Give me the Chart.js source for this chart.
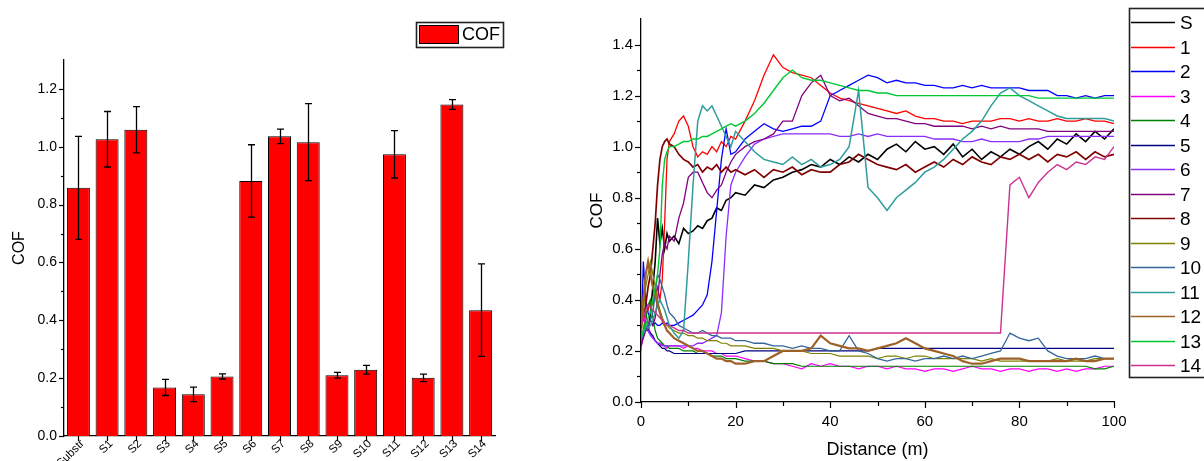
<!DOCTYPE html>
<html><head><meta charset="utf-8">
<script src="https://cdn.jsdelivr.net/npm/chart.js@4.4.1/dist/chart.umd.min.js"></script>
<style>
html,body{margin:0;padding:0;background:#fff;width:1204px;height:461px;overflow:hidden}
#c1{position:absolute;left:0;top:0;width:560px;height:461px}
#c2{position:absolute;left:560px;top:0;width:644px;height:461px}
</style></head><body>
<canvas id="c1" width="560" height="461"></canvas>
<canvas id="c2" width="644" height="461"></canvas>
<script>
// ---------- bar chart data ----------
const barCategories = ['Substr','S1','S2','S3','S4','S5','S6','S7','S8','S9','S10','S11','S12','S13','S14'];
const cofMean = [0.858,1.026,1.059,0.168,0.144,0.206,0.882,1.036,1.016,0.210,0.229,0.974,0.201,1.146,0.435];
const cofErr  = [0.178,0.096,0.080,0.028,0.025,0.009,0.125,0.025,0.133,0.010,0.015,0.082,0.013,0.017,0.160];
const barYTicks = [0,0.2,0.4,0.6,0.8,1.0,1.2];
const barYMinor = [0.1,0.3,0.5,0.7,0.9,1.1];

// ---------- line chart data ----------
const distance = [0,0.5,1,1.5,2,2.5,3,3.5,4,4.5,5,5.5,6,7,8,9,10,11,12,13,14,15,16,17,18,19,20,22,24,26,28,30,32,34,36,38,40,42,44,46,48,50,52,54,56,58,60,62,64,66,68,70,72,74,76,78,80,82,84,86,88,90,92,94,96,98,100];
const seriesLabels = ['S','1','2','3','4','5','6','7','8','9','10','11','12','13','14'];
const seriesColors = ['#000000','#ff0000','#0000ff','#ff00ff','#008000','#000080','#8c2cff','#800080','#800000','#808000','#336699','#2e9c9c','#9c6228','#00c832','#cc3390'];
const lineXTicks = [0,20,40,60,80,100];
const lineXMinor = [10,30,50,70,90];
const lineYTicks = [0,0.2,0.4,0.6,0.8,1.0,1.2,1.4];
const lineYMinor = [0.1,0.3,0.5,0.7,0.9,1.1,1.3];

const cofS = [0.25,0.27,0.30,0.28,0.35,0.45,0.55,0.72,0.62,0.68,0.60,0.66,0.63,
 0.65,0.62,0.68,0.66,0.67,0.69,0.68,0.71,0.72,0.76,0.75,0.79,0.80,0.82,
 0.81,0.85,0.84,0.87,0.88,0.90,0.91,0.93,0.92,0.95,0.93,0.96,0.94,0.97,0.95,0.99,1.01,0.98,1.02,0.99,1.00,0.97,1.01,0.96,0.99,0.95,0.98,0.96,0.99,0.97,1.00,1.02,0.99,1.03,1.01,1.05,1.02,1.06,1.03,1.07];
const cof1 = [0.30,0.32,0.35,0.36,0.40,0.38,0.42,0.45,0.40,0.48,0.70,0.95,1.02,
 1.05,1.10,1.12,1.08,1.00,0.96,0.98,0.97,1.00,0.98,1.02,1.00,1.04,1.03,
 1.10,1.18,1.28,1.36,1.31,1.29,1.28,1.27,1.24,1.21,1.19,1.18,1.17,1.16,1.15,1.14,1.13,1.14,1.12,1.11,1.11,1.10,1.10,1.09,1.10,1.10,1.10,1.11,1.11,1.10,1.11,1.10,1.10,1.11,1.10,1.10,1.11,1.10,1.10,1.09];
const cof2 = [0.25,0.55,0.40,0.35,0.32,0.30,0.31,0.30,0.30,0.31,0.30,0.31,0.30,
 0.30,0.31,0.32,0.33,0.34,0.36,0.38,0.42,0.55,0.75,0.95,1.07,0.97,0.98,
 1.03,1.06,1.09,1.07,1.06,1.07,1.08,1.08,1.10,1.20,1.22,1.24,1.26,1.28,1.27,1.25,1.26,1.25,1.25,1.24,1.24,1.23,1.23,1.24,1.23,1.24,1.23,1.23,1.23,1.23,1.22,1.22,1.22,1.20,1.20,1.19,1.20,1.19,1.20,1.20];
const cof3 = [0.20,0.28,0.35,0.30,0.27,0.25,0.24,0.23,0.22,0.23,0.22,0.21,0.22,
 0.22,0.22,0.21,0.22,0.21,0.21,0.20,0.20,0.20,0.19,0.19,0.18,0.18,0.18,
 0.17,0.16,0.16,0.15,0.15,0.14,0.13,0.15,0.14,0.15,0.14,0.14,0.13,0.14,0.14,0.13,0.14,0.13,0.13,0.12,0.13,0.13,0.12,0.13,0.14,0.13,0.13,0.12,0.13,0.13,0.12,0.13,0.13,0.12,0.13,0.12,0.13,0.13,0.14,0.14];
const cof4 = [0.22,0.28,0.32,0.38,0.40,0.33,0.28,0.25,0.24,0.23,0.22,0.22,0.21,
 0.21,0.21,0.20,0.20,0.20,0.19,0.19,0.19,0.18,0.18,0.18,0.17,0.17,0.17,
 0.16,0.16,0.16,0.15,0.15,0.15,0.14,0.14,0.14,0.14,0.14,0.14,0.14,0.14,0.14,0.14,0.14,0.14,0.14,0.14,0.14,0.14,0.14,0.14,0.14,0.14,0.14,0.14,0.14,0.14,0.14,0.14,0.14,0.14,0.14,0.14,0.14,0.13,0.13,0.14];
const cof5 = [0.25,0.27,0.28,0.28,0.27,0.26,0.24,0.23,0.22,0.21,0.21,0.20,0.20,
 0.19,0.19,0.19,0.19,0.19,0.19,0.19,0.19,0.19,0.19,0.19,0.19,0.19,0.19,
 0.20,0.20,0.20,0.20,0.20,0.20,0.20,0.20,0.20,0.20,0.20,0.20,0.20,0.20,0.21,0.21,0.21,0.21,0.21,0.21,0.21,0.21,0.21,0.21,0.21,0.21,0.21,0.21,0.21,0.21,0.21,0.21,0.21,0.21,0.21,0.21,0.21,0.21,0.21,0.21];
const cof6 = [0.22,0.26,0.30,0.28,0.26,0.25,0.24,0.23,0.23,0.22,0.22,0.22,0.22,
 0.22,0.22,0.22,0.22,0.22,0.23,0.23,0.24,0.25,0.26,0.35,0.65,0.85,0.90,
 0.96,1.01,1.03,1.04,1.05,1.05,1.05,1.05,1.05,1.05,1.04,1.04,1.05,1.04,1.05,1.04,1.04,1.04,1.04,1.04,1.03,1.03,1.03,1.02,1.02,1.03,1.02,1.02,1.02,1.02,1.03,1.03,1.04,1.04,1.04,1.04,1.04,1.04,1.04,1.04];
const cof7 = [0.22,0.25,0.28,0.30,0.32,0.30,0.33,0.40,0.50,0.58,0.62,0.60,0.65,
 0.63,0.72,0.78,0.88,0.90,0.90,0.86,0.82,0.80,0.83,0.85,0.90,0.94,0.97,
 1.00,1.02,1.03,1.05,1.10,1.10,1.20,1.25,1.28,1.20,1.18,1.19,1.16,1.13,1.12,1.11,1.11,1.10,1.09,1.09,1.08,1.08,1.08,1.08,1.07,1.08,1.07,1.08,1.07,1.07,1.07,1.07,1.06,1.06,1.06,1.06,1.06,1.06,1.06,1.06];
const cof8 = [0.30,0.33,0.38,0.45,0.50,0.60,0.70,0.85,0.95,1.00,1.02,1.03,1.01,
 1.00,0.97,0.95,0.94,0.92,0.93,0.90,0.92,0.91,0.93,0.90,0.92,0.90,0.91,
 0.89,0.91,0.88,0.91,0.90,0.92,0.89,0.91,0.90,0.90,0.93,0.94,0.97,0.95,0.93,0.92,0.91,0.93,0.90,0.92,0.94,0.92,0.95,0.93,0.96,0.94,0.93,0.96,0.95,0.97,0.95,0.97,0.94,0.97,0.96,0.98,0.95,0.98,0.96,0.97];
const cof9 = [0.25,0.35,0.45,0.50,0.55,0.50,0.45,0.40,0.36,0.33,0.31,0.30,0.29,
 0.28,0.27,0.27,0.26,0.26,0.25,0.25,0.24,0.24,0.24,0.23,0.23,0.22,0.22,
 0.22,0.21,0.21,0.21,0.20,0.20,0.20,0.19,0.19,0.19,0.18,0.18,0.18,0.18,0.17,0.18,0.18,0.17,0.18,0.18,0.17,0.17,0.17,0.17,0.17,0.16,0.17,0.16,0.16,0.16,0.16,0.16,0.16,0.17,0.16,0.16,0.16,0.17,0.17,0.17];
const cof10 = [0.25,0.27,0.28,0.30,0.32,0.35,0.42,0.50,0.48,0.45,0.42,0.38,0.35,
 0.33,0.30,0.29,0.28,0.27,0.27,0.28,0.27,0.26,0.26,0.25,0.25,0.25,0.24,
 0.24,0.23,0.23,0.22,0.22,0.21,0.22,0.21,0.21,0.20,0.20,0.26,0.20,0.19,0.17,0.16,0.17,0.17,0.16,0.17,0.17,0.18,0.17,0.18,0.17,0.18,0.19,0.20,0.27,0.25,0.24,0.25,0.20,0.18,0.17,0.17,0.17,0.18,0.17,0.17];
const cof11 = [0.25,0.27,0.30,0.29,0.30,0.32,0.35,0.38,0.40,0.38,0.36,0.33,0.30,
 0.27,0.25,0.28,0.55,0.85,1.10,1.16,1.14,1.16,1.12,1.08,1.04,1.00,1.06,
 1.02,0.98,0.95,0.94,0.93,0.96,0.93,0.95,0.92,0.93,0.95,1.00,1.22,0.84,0.80,0.75,0.80,0.83,0.86,0.90,0.92,0.95,0.99,1.03,1.06,1.10,1.16,1.21,1.23,1.20,1.18,1.16,1.14,1.12,1.11,1.11,1.11,1.11,1.11,1.10];
const cof12 = [0.30,0.40,0.50,0.55,0.50,0.45,0.42,0.38,0.35,0.32,0.30,0.28,0.27,
 0.25,0.24,0.23,0.22,0.21,0.20,0.20,0.19,0.18,0.17,0.17,0.16,0.16,0.15,
 0.15,0.16,0.16,0.18,0.20,0.20,0.20,0.21,0.26,0.23,0.22,0.21,0.21,0.20,0.21,0.22,0.23,0.25,0.23,0.21,0.20,0.19,0.18,0.16,0.15,0.15,0.16,0.17,0.17,0.17,0.16,0.16,0.16,0.16,0.16,0.17,0.16,0.16,0.17,0.17];
const cof13 = [0.25,0.28,0.30,0.33,0.35,0.40,0.45,0.50,0.60,0.85,0.95,0.98,1.00,
 1.00,1.01,1.02,1.02,1.03,1.03,1.04,1.04,1.05,1.06,1.07,1.08,1.09,1.08,
 1.10,1.13,1.17,1.22,1.27,1.30,1.27,1.26,1.26,1.25,1.24,1.23,1.22,1.22,1.21,1.21,1.20,1.20,1.20,1.20,1.20,1.20,1.20,1.20,1.20,1.20,1.20,1.20,1.20,1.20,1.20,1.19,1.19,1.19,1.19,1.19,1.19,1.19,1.19,1.19];
const cof14 = [0.30,0.33,0.36,0.38,0.37,0.36,0.35,0.34,0.33,0.32,0.31,0.30,0.30,
 0.29,0.28,0.28,0.27,0.27,0.27,0.27,0.27,0.27,0.27,0.27,0.27,0.27,0.27,
 0.27,0.27,0.27,0.27,0.27,0.27,0.27,0.27,0.27,0.27,0.27,0.27,0.27,0.27,0.27,0.27,0.27,0.27,0.27,0.27,0.27,0.27,0.27,0.27,0.27,0.27,0.27,0.27,0.85,0.88,0.80,0.86,0.90,0.93,0.91,0.94,0.93,0.96,0.95,1.00];
const seriesValues = [cofS,cof1,cof2,cof3,cof4,cof5,cof6,cof7,cof8,cof9,cof10,cof11,cof12,cof13,cof14];
const seriesWidths = [1.6,1.3,1.3,1.2,1.2,1.2,1.3,1.3,1.7,1.2,1.3,1.5,2.2,1.4,1.4];

const FONT = "'Liberation Sans', Arial, sans-serif";

// ---------- plugins ----------
const axisTicks = {
  id: 'axisTicks',
  afterDraw(chart, args, opts) {
    const ctx = chart.ctx;
    ctx.save(); ctx.strokeStyle = '#000'; ctx.lineWidth = 1.2;
    ['x','y'].forEach(k => {
      const sc = chart.scales[k]; const o = opts[k]; if (!o) return;
      const draw = (v, len) => {
        const p = Math.round(sc.getPixelForValue(v)) + 0.5;
        ctx.beginPath();
        if (k === 'x') { ctx.moveTo(p, sc.top); ctx.lineTo(p, sc.top + len); }
        else { ctx.moveTo(sc.right, p); ctx.lineTo(sc.right - len, p); }
        ctx.stroke();
      };
      (o.major || []).forEach(v => draw(v, o.len));
      (o.minor || []).forEach(v => draw(v, o.minorLen));
    });
    ctx.restore();
  }
};

const errorBars = {
  id: 'errorBars',
  afterDatasetsDraw(chart) {
    const ctx = chart.ctx, meta = chart.getDatasetMeta(0), ys = chart.scales.y;
    ctx.save(); ctx.strokeStyle = '#000'; ctx.lineWidth = 1.3;
    meta.data.forEach((bar, i) => {
      const x = Math.round(bar.x) + 0.5;
      const yt = ys.getPixelForValue(cofMean[i] + cofErr[i]);
      const yb = ys.getPixelForValue(cofMean[i] - cofErr[i]);
      ctx.beginPath();
      ctx.moveTo(x, yt); ctx.lineTo(x, yb);
      ctx.moveTo(x - 3.5, yt); ctx.lineTo(x + 3.5, yt);
      ctx.moveTo(x - 3.5, yb); ctx.lineTo(x + 3.5, yb);
      ctx.stroke();
    });
    ctx.restore();
  }
};

const barLegend = {
  id: 'barLegend',
  afterDraw(chart) {
    const ctx = chart.ctx, ds = chart.data.datasets[0];
    ctx.save();
    ctx.fillStyle = '#fff';
    ctx.fillRect(416, 22, 87, 25);
    ctx.strokeStyle = '#222'; ctx.lineWidth = 1.6;
    ctx.strokeRect(416.5, 22.5, 87, 25);
    ctx.fillStyle = ds.backgroundColor;
    ctx.fillRect(419, 25, 40, 19);
    ctx.strokeStyle = '#000'; ctx.lineWidth = 1;
    ctx.strokeRect(419.5, 25.5, 39, 18);
    ctx.fillStyle = '#000'; ctx.font = '18px ' + FONT; ctx.textBaseline = 'middle';
    ctx.fillText(ds.label, 462, 35.5);
    ctx.restore();
  }
};

const lineLegend = {
  id: 'lineLegend',
  afterDraw(chart) {
    const ctx = chart.ctx;
    ctx.save();
    ctx.strokeStyle = '#222'; ctx.lineWidth = 1.6;
    ctx.strokeRect(569.5, 8.5, 100, 369);
    ctx.font = '19px ' + FONT; ctx.textBaseline = 'middle';
    chart.data.datasets.forEach((ds, i) => {
      const y = Math.round(22 + i * 24.5) + 0.5;
      ctx.strokeStyle = ds.borderColor; ctx.lineWidth = 1.3;
      ctx.beginPath(); ctx.moveTo(571, y); ctx.lineTo(615, y); ctx.stroke();
      ctx.fillStyle = '#000';
      ctx.fillText(ds.label, 620, y + 1);
    });
    ctx.restore();
  }
};

// ---------- bar chart ----------
new Chart(document.getElementById('c1'), {
  type: 'bar',
  data: {
    labels: barCategories,
    datasets: [{
      label: 'COF', data: cofMean,
      backgroundColor: '#ff0000', borderColor: '#000', borderWidth: 1,
      barPercentage: 0.8, categoryPercentage: 1.0
    }]
  },
  plugins: [axisTicks, errorBars, barLegend],
  options: {
    responsive: false, animation: false,
    layout: { padding: { left: 0, right: 65, top: 60, bottom: 0 } },
    plugins: {
      legend: { display: false }, tooltip: { enabled: false },
      axisTicks: {
        x: { major: barCategories.map((c, i) => i), len: 5 },
        y: { major: barYTicks, minor: barYMinor, len: 5, minorLen: 3 }
      }
    },
    scales: {
      x: {
        grid: { display: false, drawTicks: false },
        border: { display: true, color: '#000', width: 1.3 },
        ticks: { font: { family: FONT, size: 11.5 }, color: '#000', minRotation: 45, maxRotation: 45, padding: 1, labelOffset: 4, autoSkip: false },
        afterFit(s) { s.height = 25; }
      },
      y: {
        min: 0, max: 1.3,
        afterBuildTicks(s) { s.ticks = barYTicks.map(v => ({ value: v })); },
        grid: { display: false, drawTicks: false },
        border: { display: true, color: '#000', width: 1.3 },
        ticks: { font: { family: FONT, size: 14 }, color: '#000', padding: 7, callback: v => Number(v).toFixed(1) },
        title: { display: true, text: 'COF', font: { family: FONT, size: 16 }, color: '#000', padding: { top: 10, bottom: 0 } },
        afterFit(s) { s.width = 64; }
      }
    }
  }
});

// ---------- line chart ----------
new Chart(document.getElementById('c2'), {
  type: 'line',
  data: {
    datasets: seriesValues.map((vals, i) => ({
      label: seriesLabels[i],
      data: vals.map((y, j) => ({ x: distance[j], y })),
      borderColor: seriesColors[i], backgroundColor: seriesColors[i],
      borderWidth: seriesWidths[i], pointRadius: 0, tension: 0, fill: false,
      order: 15 - i
    }))
  },
  plugins: [axisTicks, lineLegend],
  options: {
    responsive: false, animation: false,
    layout: { padding: { left: 0, right: 90, top: 19, bottom: 0 } },
    plugins: {
      legend: { display: false }, tooltip: { enabled: false },
      axisTicks: {
        x: { major: lineXTicks, minor: lineXMinor, len: 6, minorLen: 4 },
        y: { major: lineYTicks, minor: lineYMinor, len: 6, minorLen: 4 }
      }
    },
    scales: {
      x: {
        type: 'linear', min: 0, max: 100,
        afterBuildTicks(s) { s.ticks = lineXTicks.map(v => ({ value: v })); },
        grid: { display: false, drawTicks: false },
        border: { display: true, color: '#000', width: 1.3 },
        ticks: { font: { family: FONT, size: 15 }, color: '#000', padding: 11, maxRotation: 0 },
        title: { display: true, text: 'Distance (m)', font: { family: FONT, size: 18 }, color: '#000', padding: { top: 0, bottom: 0 } },
        afterFit(s) { s.height = 59; }
      },
      y: {
        min: 0, max: 1.5,
        afterBuildTicks(s) { s.ticks = lineYTicks.map(v => ({ value: v })); },
        grid: { display: false, drawTicks: false },
        border: { display: true, color: '#000', width: 1.3 },
        ticks: { font: { family: FONT, size: 15 }, color: '#000', padding: 8, callback: v => Number(v).toFixed(1) },
        title: { display: true, text: 'COF', font: { family: FONT, size: 17 }, color: '#000', padding: { top: 27, bottom: 0 } },
        afterFit(s) { s.width = 81; }
      }
    }
  }
});
</script></body></html>
